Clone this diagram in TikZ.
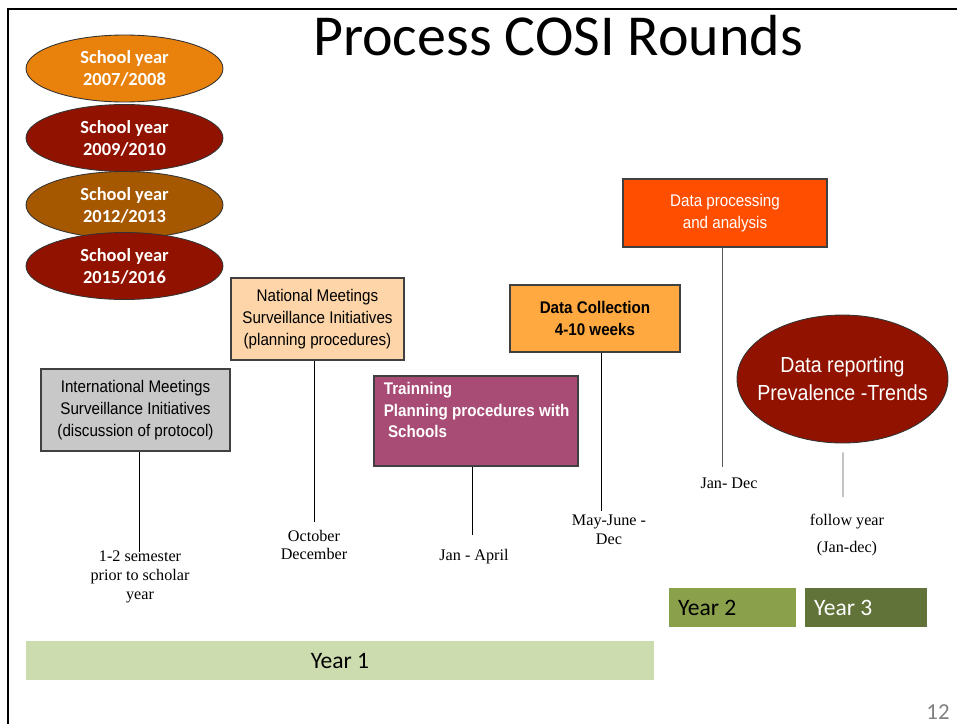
\documentclass[tikz,border=0pt]{standalone}
\usepackage{fontspec}
\setmainfont{Liberation Serif}
\newfontfamily\calfont{Carlito}
\newfontfamily\arnfont[FakeStretch=0.9]{Liberation Sans}
\usetikzlibrary{shapes.geometric}
\usetikzlibrary{calc}
\definecolor{sy1}{RGB}{233,130,12}
\definecolor{sydark}{RGB}{146,18,0}
\definecolor{sy3}{RGB}{166,88,0}
\definecolor{intlgray}{RGB}{200,200,200}
\definecolor{peach}{RGB}{253,213,168}
\definecolor{plum}{RGB}{168,75,117}
\definecolor{collorange}{RGB}{255,169,64}
\definecolor{procred}{RGB}{255,78,0}
\definecolor{yone}{RGB}{205,220,174}
\definecolor{ytwo}{RGB}{138,160,75}
\definecolor{ythree}{RGB}{97,115,56}
\tikzset{box/.style={draw=black!75, line width=0.6pt, rectangle, inner sep=0pt, align=center, font=\arnfont\fontsize{9.6}{12.5}\selectfont}}
\tikzset{syear/.style={ellipse, draw=black!80, line width=0.5pt, minimum width=3.94cm, minimum height=1.34cm, inner sep=0pt, align=center, text=white, font=\calfont\bfseries\fontsize{10.5}{12.5}\selectfont}}
\tikzset{when/.style={align=center, inner sep=0pt, font=\fontsize{9.2}{10.6}\selectfont}}
\tikzset{bar/.style={minimum height=0.78cm, inner sep=0pt, font=\calfont\fontsize{13.4}{16}\selectfont}}

\begin{document}
\begin{tikzpicture}[x=0.02cm, y=-0.02cm]
\useasboundingbox (0,0) rectangle (957,724);
\draw[line width=1.4pt] (8,724) -- (8,9) -- (957,9);

\node (title) at (558,36) {\calfont\fontsize{33}{40}\selectfont Process COSI Rounds};

% school years
\node[syear, fill=sy1] (s1) at (124.5,68.5) {School year\\2007/2008};
\node[syear, fill=sydark] (s2) at (124.5,138) {School year\\2009/2010};
\node[syear, fill=sy3] (s3) at (124.5,205) {School year\\2012/2013};
\node[syear, fill=sydark] (s4) at (124.5,266) {School year\\2015/2016};

% steps
\node[box, fill=intlgray, minimum width=3.78cm, minimum height=1.64cm] (intl) at (135.5,410)
  {International Meetings\\Surveillance Initiatives\\ (discussion of protocol)};
\node[box, fill=peach, minimum width=3.46cm, minimum height=1.64cm] (natl) at (317.5,319)
  {National Meetings\\Surveillance Initiatives\\(planning procedures)};
\node[box, fill=plum, minimum width=4.08cm, minimum height=1.8cm] (train) at (476,421) {};
\node[anchor=north west, inner sep=0pt, align=left, text=white, font=\arnfont\bfseries\fontsize{9.6}{12.5}\selectfont]
  (trainlbl) at ($(train.north west)+(10,6)$) {Trainning\\Planning procedures with\\\ Schools};
\node[box, fill=collorange, minimum width=3.4cm, minimum height=1.34cm, font=\arnfont\bfseries\fontsize{9.6}{12.5}\selectfont] (coll) at (595,318.5)
  {Data Collection\\4-10 weeks};
\node[box, fill=procred, text=white, minimum width=4.08cm, minimum height=1.36cm] (proc) at (725,213)
  {Data processing\\and analysis};
\node[ellipse, draw=black!80, line width=0.5pt, fill=sydark, text=white, minimum width=4.22cm, minimum height=2.56cm,
  inner xsep=-10pt, inner ysep=0pt, align=center,
  font=\arnfont\fontsize{12.4}{15.9}\selectfont] (report) at (842.5,379) {Data reporting\\Prevalence -Trends};

% time labels
\coordinate (e1) at (139,552);
\coordinate (e2) at (314,522);
\coordinate (e3) at (472,535);
\coordinate (e4) at (601,511);
\coordinate (e5) at (722,467);
\coordinate (e6) at (843,497);
\node[when] (w1) at (140,577) {1-2 semester\\prior to scholar\\year};
\node[when] (w2) at (314,545) {October\\December};
\node[when] (w3) at (474,557) {Jan - April};
\node[when] (w4) at (609,529.5) {May-June -\\Dec};
\node[when] (w5) at (729,483) {Jan- Dec};
\node[when] (w6) at (847,535) {follow year\\[1.2ex](Jan-dec)};

\draw[line width=0.5pt] (intl.south -| e1) -- (e1);
\draw[line width=0.5pt] (natl.south -| e2) -- (e2);
\draw[line width=0.5pt] (train.south -| e3) -- (e3);
\draw[line width=0.5pt] (coll.south -| e4) -- (e4);
\draw[line width=0.5pt, black!65] (proc.south -| e5) -- (e5);
\draw[line width=0.5pt, black!65] ($(report.south)+(0.5,9)$) -- (e6);

% years
\node[bar, fill=yone, minimum width=12.56cm] (y1) at (340,660.5) {Year 1};
\node[bar, fill=ytwo, minimum width=2.54cm] (y2) at (732.5,607.5) {\makebox[2.18cm][l]{Year 2}};
\node[bar, fill=ythree, text=white, minimum width=2.44cm] (y3) at (866,607.5) {\makebox[2.08cm][l]{Year 3}};

\node[text=black!50, font=\calfont\fontsize{13}{15}\selectfont] (page) at (938,712) {12};
\end{tikzpicture}
\end{document}
